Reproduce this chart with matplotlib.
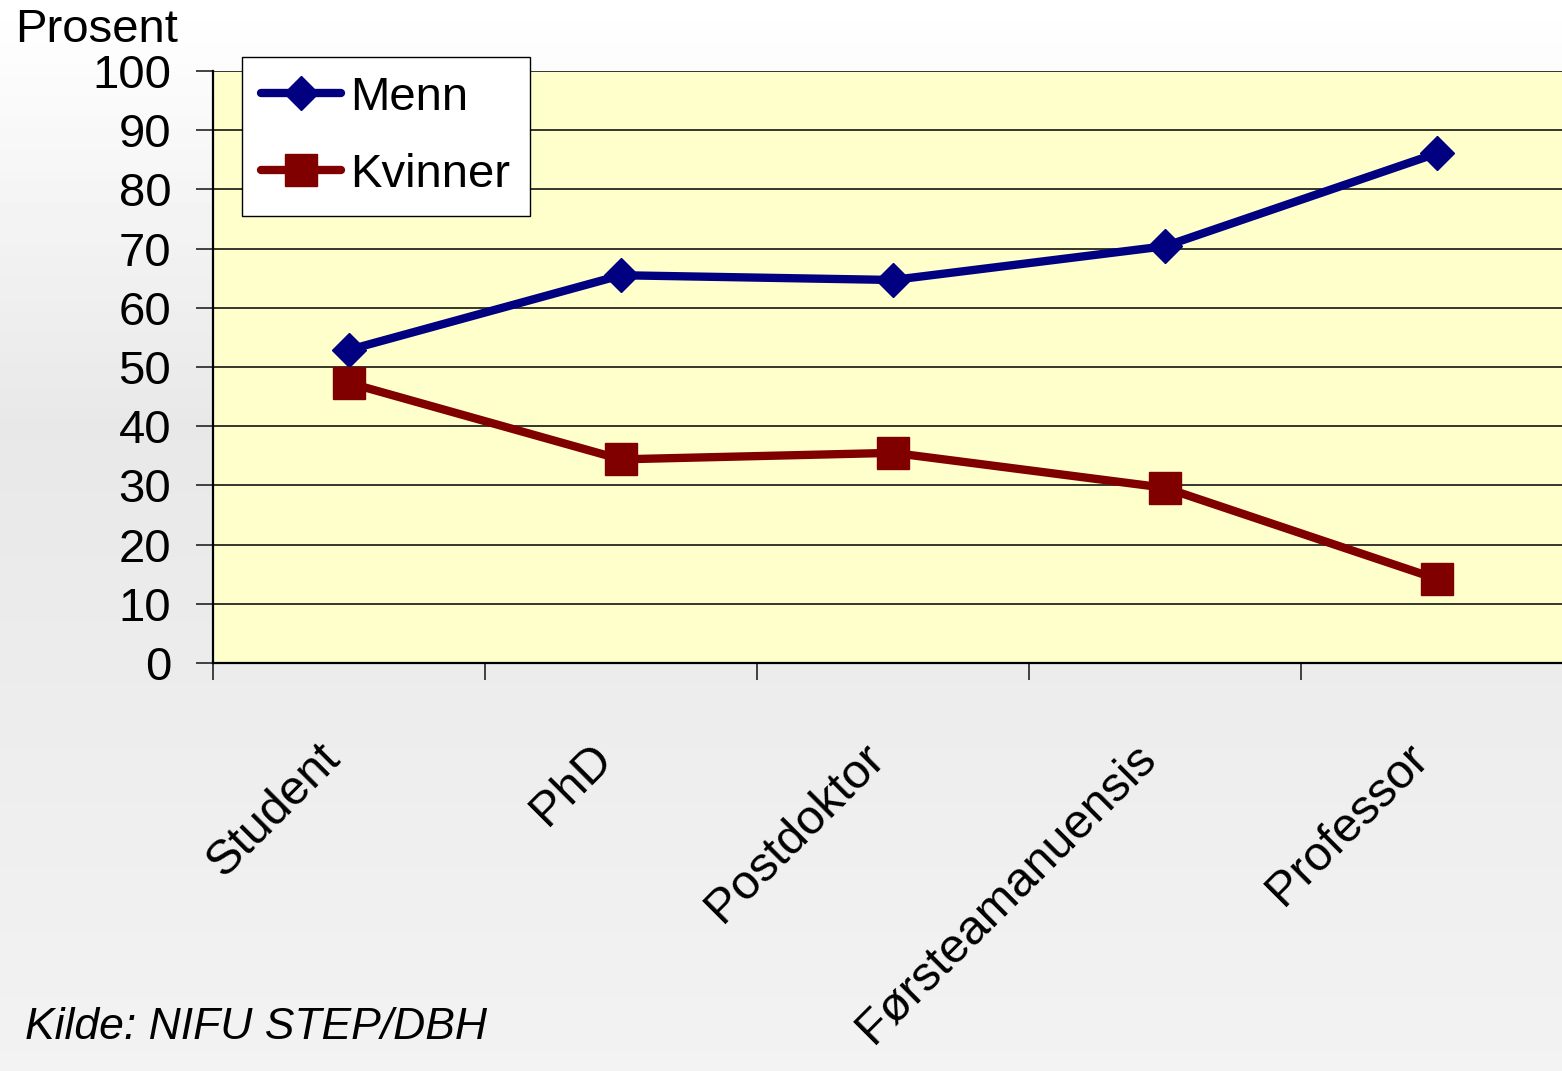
import numpy as np
import matplotlib
matplotlib.use("Agg")
import matplotlib.pyplot as plt

plt.rcParams['font.family'] = ['Liberation Sans', 'DejaVu Sans']

# data
categories = ["Student", "PhD", "Postdoktor", "Førsteamanuensis", "Professor"]
menn = [52.9, 65.5, 64.7, 70.4, 86.1]
kvinner = [47.3, 34.4, 35.5, 29.6, 14.2]
yticks = list(range(0, 101, 10))

W, H = 1562, 1071
fig = plt.figure(figsize=(W / 100, H / 100), dpi=100)

# soft grey slide background
bg = fig.add_axes([0, 0, 1, 1], zorder=-10)
grad = np.concatenate([np.linspace(1.0, 0.91, 40), np.linspace(0.91, 0.95, 60)])
bg.imshow(grad[:, None], cmap="gray", vmin=0, vmax=1, aspect="auto",
          extent=[0, 1, 0, 1])
bg.set_axis_off()

x = np.arange(len(categories))
ax = fig.add_axes([213 / W, 408 / H, 1360 / W, 592 / H])
ax.set_facecolor("#FFFFCC")

ax.plot(x, menn, color="#000080", lw=6, marker="D", ms=17, label="Menn",
        solid_capstyle="round", zorder=3)
ax.plot(x, kvinner, color="#800000", lw=6, marker="s", ms=23, label="Kvinner",
        solid_capstyle="round", zorder=3)

ax.set_xlim(-0.5, len(categories) - 0.5)
ax.set_ylim(0, 100)
ax.set_yticks(yticks)
ax.yaxis.grid(True, color="black", lw=1.1)
ax.set_axisbelow(True)

ax.set_xticks(np.arange(-0.5, len(categories) + 0.5, 1.0))
ax.set_xticklabels([])
ax.set_xticks(x, minor=True)
ax.set_xticklabels(categories, minor=True, rotation=45, ha="right",
                   fontsize=35)
ax.tick_params(axis="x", which="minor", length=0, pad=52)
ax.tick_params(axis="x", which="major", length=12, width=1.3, color="#333333")
ax.tick_params(axis="y", length=12, width=1.3, color="#333333", pad=18,
               labelsize=34)

for s in ["top", "right"]:
    ax.spines[s].set_visible(False)
ax.spines["left"].set_linewidth(1.6)
ax.spines["bottom"].set_linewidth(1.6)

leg = ax.legend(loc="upper left", bbox_to_anchor=(29 / 1360, 1 + 14 / 592),
                fontsize=34, frameon=True, fancybox=False, edgecolor="black",
                framealpha=1, handlelength=1.7, borderpad=0.4,
                labelspacing=0.7, handletextpad=0.2, borderaxespad=0)
leg.get_frame().set_linewidth(1.0)

fig.text(15 / W, 1 - 8 / H, "Prosent", fontsize=34, va="top", ha="left")
fig.text(25 / W, 1 - 1048 / H, "Kilde: NIFU STEP/DBH", fontsize=32,
         style="italic", va="bottom", ha="left")

fig.savefig("out.png", dpi=100)
